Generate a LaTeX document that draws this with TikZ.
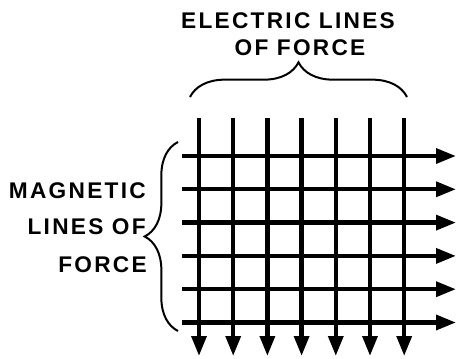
\documentclass[tikz,border=0pt]{standalone}
\usepackage{fontspec}
\setmainfont{Liberation Sans}[LetterSpace=10]
\usetikzlibrary{arrows.meta,decorations.pathreplacing}

\begin{document}
\begin{tikzpicture}[x=0.75pt,y=0.75pt,yscale=-1,xscale=1]
\tikzset{
  fieldline/.style={line width=3.2pt,-{Triangle[length=15pt,width=11pt]}},
  bracemark/.style={line width=1.5pt,decorate,decoration={brace,amplitude=#1}},
  caption/.style={font=\fontsize{17}{20}\selectfont\bfseries,inner sep=0pt}
}
\useasboundingbox (0,0) rectangle (458,358);

% Electric lines (vertical)
\foreach \i in {0,...,6}{
  \coordinate (e\i top) at ({199+34.2*\i},118);
  \coordinate (e\i end) at ({199+34.2*\i},356);
  \draw [fieldline] (e\i top) -- (e\i end);
}
% Magnetic lines (horizontal)
\foreach \j in {0,...,5}{
  \coordinate (m\j start) at (182,{156+33.3*\j});
  \coordinate (m\j end) at (456,{156+33.3*\j});
  \draw [fieldline] (m\j start) -- (m\j end);
}

% Braces
\coordinate (eb left) at (190,97);
\coordinate (eb right) at (407,97);
\draw [bracemark=26] (eb left) -- (eb right);
\coordinate (mb bottom) at (178,331);
\coordinate (mb top) at (178,142);
\draw [bracemark=25] (mb bottom) -- (mb top);

% Text Node
\node [caption] (etitle1) at (288,21) {ELECTRIC LINES};
% Text Node
\node [caption] (etitle2) at (300,48) {OF FORCE};
% Text Node
\node [caption,anchor=east] (mtitle1) at (146,191) {MAGNETIC};
% Text Node
\node [caption,anchor=east] (mtitle2) at (146,227) {LINES OF};
% Text Node
\node [caption,anchor=east] (mtitle3) at (147,265) {FORCE};

\end{tikzpicture}
\end{document}
